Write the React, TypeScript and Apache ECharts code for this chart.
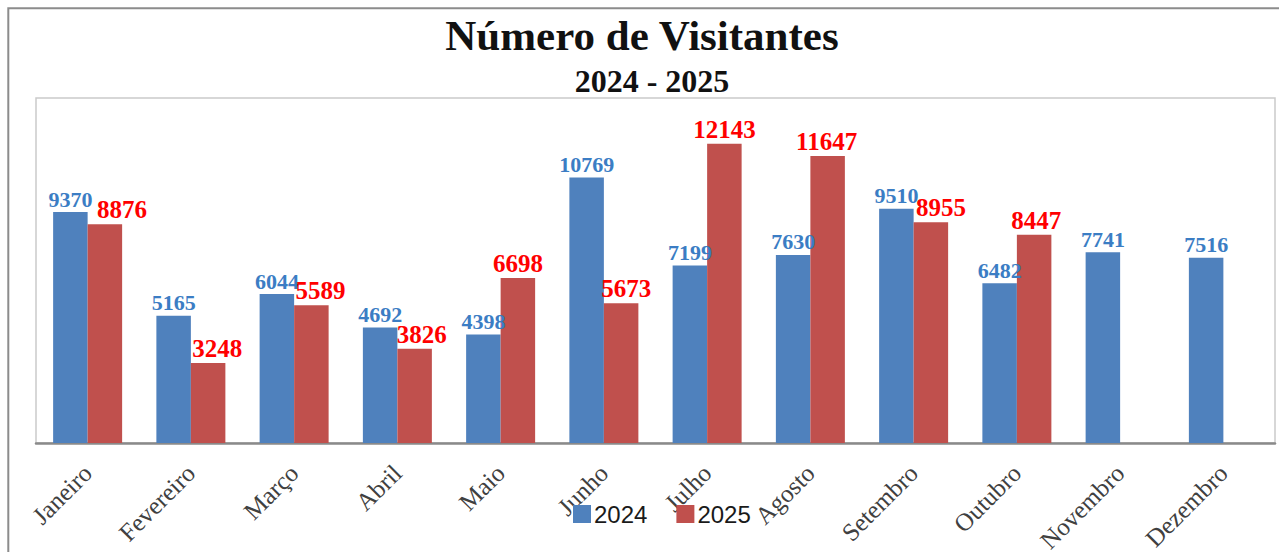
import React, { useEffect, useRef } from "react";
import * as echarts from "echarts";

const months = ["Janeiro", "Fevereiro", "Março", "Abril", "Maio", "Junho", "Julho", "Agosto", "Setembro", "Outubro", "Novembro", "Dezembro"];
const visitors2024 = [9370, 5165, 6044, 4692, 4398, 10769, 7199, 7630, 9510, 6482, 7741, 7516];
const visitors2025: (number | null)[] = [8876, 3248, 5589, 3826, 6698, 5673, 12143, 11647, 8955, 8447, null, null];
const label2025OffsetX = [17, 9, 9, 7, 0, 5, 0, -1, 10, 2, 0, 0];
const titleText = "Número de Visitantes";
const subtitleText = "2024 - 2025";

export default function App() {
  const ref = useRef<HTMLDivElement>(null);
  useEffect(() => {
    if (!ref.current) return;
    const chart = echarts.init(ref.current, null, { renderer: "svg" });
    const serif = "'Liberation Serif', 'Times New Roman', serif";
    chart.setOption({
      animation: false,
      backgroundColor: "#ffffff",
      graphic: [
        {
          type: "rect",
          shape: { x: 8.3, y: 8.3, width: 2000, height: 2000 },
          style: { fill: "none", stroke: "#8c8c8c", lineWidth: 2 },
          silent: true,
        },
        {
          type: "text",
          x: 642,
          y: 35,
          style: { text: titleText, font: `bold 43px ${serif}`, fill: "#111", textAlign: "center", textVerticalAlign: "middle" },
        },
        {
          type: "text",
          x: 652,
          y: 81,
          style: { text: subtitleText, font: `bold 32px ${serif}`, fill: "#111", textAlign: "center", textVerticalAlign: "middle" },
        },
      ],
      legend: {
        left: 573,
        top: 502,
        padding: 0,
        itemWidth: 18,
        itemHeight: 18,
        itemGap: 29,
        icon: "rect",
        textStyle: { fontFamily: "'Liberation Sans', Arial, sans-serif", fontSize: 24, color: "#1a1a1a", padding: [0, 0, 0, -2] },
        data: ["2024", "2025"],
      },
      grid: {
        left: 36,
        top: 98,
        width: 1239,
        height: 345,
        show: true,
        containLabel: false,
        outerBoundsMode: "none",
        borderColor: "#cacaca",
        borderWidth: 1.5,
        backgroundColor: "transparent",
      },
      xAxis: {
        type: "category",
        data: months,
        axisTick: { show: false },
        axisLine: { lineStyle: { color: "#8a8a8a", width: 2.5 } },
        axisLabel: {
          rotate: 45,
          margin: 26,
          interval: 0,
          fontFamily: serif,
          fontSize: 25,
          color: "#404040",
        },
      },
      yAxis: {
        type: "value",
        min: 0,
        max: 14000,
        show: false,
        splitLine: { show: false },
      },
      series: [
        {
          name: "2024",
          type: "bar",
          data: visitors2024,
          barWidth: 34.5,
          barGap: "0%",
          itemStyle: { color: "#4f81bd" },
          label: {
            show: true,
            position: "top",
            distance: 2,
            fontFamily: serif,
            fontWeight: "bold",
            fontSize: 22,
            color: "#3b7dc4",
          },
        },
        {
          name: "2025",
          type: "bar",
          data: visitors2025.map((v, i) => ({ value: v, label: { offset: [label2025OffsetX[i], 0] } })),
          barWidth: 34.5,
          barGap: "0%",
          itemStyle: { color: "#c0504d" },
          label: {
            show: true,
            position: "top",
            distance: 2,
            fontFamily: serif,
            fontWeight: "bold",
            fontSize: 25,
            color: "#ff0000",
          },
        },
      ],
    });
    return () => chart.dispose();
  }, []);
  return <div ref={ref} style={{ position: "fixed", left: 0, top: 0, width: 1279, height: 552 }} />;
}
